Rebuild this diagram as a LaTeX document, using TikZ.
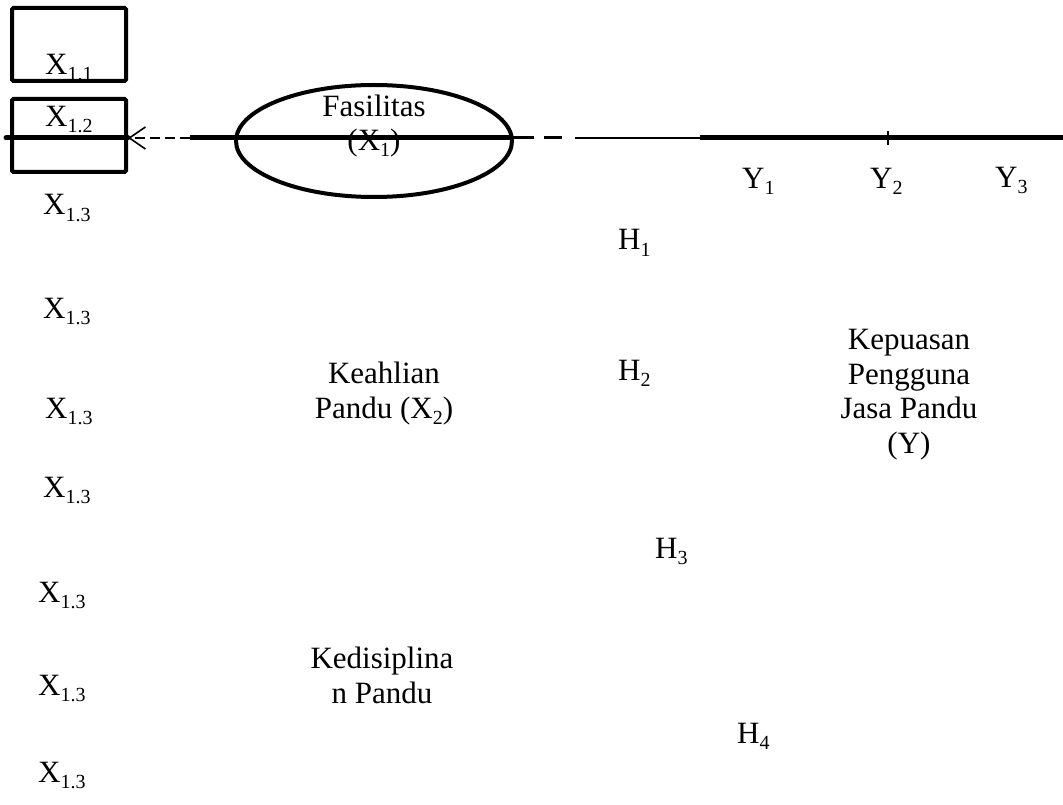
\documentclass[tikz,border=0pt]{standalone}
\usepackage{fontspec}
\setmainfont{Liberation Serif}
\usetikzlibrary{arrows.meta,shapes.geometric}
\newcommand{\sbs}[1]{\raisebox{-6pt}{\fontsize{20}{20}\selectfont #1}}
\tikzset{
  lbl/.style={inner sep=0pt, anchor=base west, font=\fontsize{31}{34}\selectfont},
  blk/.style={inner sep=0pt, anchor=base, align=center, font=\fontsize{31}{34.5}\selectfont},
  boxstyle/.style={draw, line width=4pt, rounded corners=1.5pt},
  thickline/.style={line width=5pt},
  thinline/.style={line width=1.5pt},
  dasharrow/.style={line width=2pt, dash pattern=on 10pt off 5pt, -{Straight Barb[length=16pt,width=22pt,line width=1.6pt]}}
}
\begin{document}
\begin{tikzpicture}[x=1pt,y=-1pt]
\useasboundingbox (0,0) rectangle (1063,805);
% boxes
\node[boxstyle, minimum width=114pt, minimum height=73pt, inner sep=0pt] (box1) at (69,44.5) {};
\node[boxstyle, minimum width=114pt, minimum height=73pt, inner sep=0pt] (box2) at (69,135.5) {};
% ellipse
\node[draw, ellipse, line width=4pt, minimum width=276pt, minimum height=112pt, inner sep=0pt] (ell) at (374,141) {};
% texts
\node[lbl] (x11) at (45,75) {X\sbs{1.1}};
\node[lbl] (x12) at (45,127) {X\sbs{1.2}};
\node[lbl] (x13a) at (43,215) {X\sbs{1.3}};
\node[lbl] (x13b) at (43,318) {X\sbs{1.3}};
\node[lbl] (x13c) at (45,418) {X\sbs{1.3}};
\node[lbl] (x13d) at (43,497) {X\sbs{1.3}};
\node[lbl] (x13e) at (38,602) {X\sbs{1.3}};
\node[lbl] (x13f) at (38,695) {X\sbs{1.3}};
\node[lbl] (x13g) at (38,782) {X\sbs{1.3}};
\node[blk] (fas) at (374,151) {Fasilitas\\(X\sbs{1})};
\node[blk] (kea) at (384,418) {Keahlian\\Pandu (X\sbs{2})};
\node[blk] (ked) at (382,703) {Kedisiplina\\n Pandu};
\node[blk] (kep) at (909,453) {Kepuasan\\Pengguna\\Jasa Pandu\\(Y)};
\node[lbl] (h1) at (618,250) {H\sbs{1}};
\node[lbl] (h2) at (618,380) {H\sbs{2}};
\node[lbl] (h3) at (655,558) {H\sbs{3}};
\node[lbl] (h4) at (737,743) {H\sbs{4}};
\node[lbl] (y1) at (742,189) {Y\sbs{1}};
\node[lbl] (y2) at (870,189) {Y\sbs{2}};
\node[lbl] (y3) at (995,188) {Y\sbs{3}};
% the horizontal line
\coordinate (p0) at (6,138);
\coordinate (p1) at (190,138);
\coordinate (p2) at (512,138);
\coordinate (p3) at (575,138);
\coordinate (p4) at (700,138);
\coordinate (p5) at (1063,138);
\coordinate (tk) at (888,138);
\draw[thickline, line cap=round] (p0) -- (box2.east |- p0);
\draw[dasharrow] (p1) -- (box2.east |- p1);
\draw[thickline] (p1) -- (p2);
\draw[line width=3pt, dash pattern=on 22pt off 10pt on 18pt off 20pt] (p2) -- (p3);
\draw[thinline] (p3) -- (p4);
\draw[thickline] (p4) -- (p5);
\draw[line width=2.5pt] ([yshift=-7pt]tk) -- ([yshift=7pt]tk);
\end{tikzpicture}
\end{document}
